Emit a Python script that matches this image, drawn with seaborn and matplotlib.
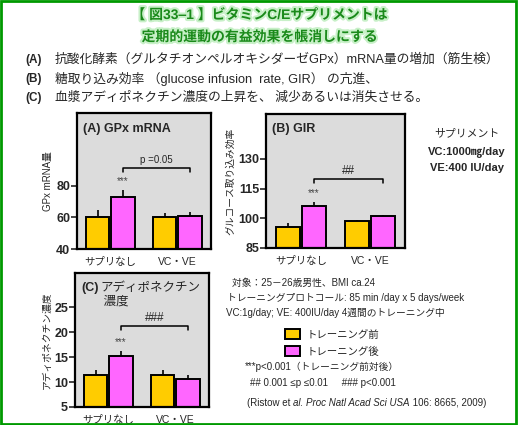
import matplotlib
matplotlib.use("Agg")
import matplotlib.pyplot as plt
import matplotlib.patheffects as pe
import seaborn as sns
import pandas as pd

sns.set_theme(style="white")
plt.rcParams['font.family'] = ['Liberation Sans', 'Noto Sans CJK JP', 'DejaVu Sans']

# data
groups = ["サプリなし", "VC・VE"]
phases = ["トレーニング前", "トレーニング後"]
gpx_mean = [60, 73, 60, 61]
gpx_err = [4.5, 4.5, 3, 2.5]
gir_mean = [95.8, 106.4, 98.8, 101.3]
gir_err = [2.0, 2.0, 0.3, 0.3]
adipo_mean = [11.5, 15.2, 11.5, 10.6]
adipo_err = [0.9, 1.0, 0.9, 0.8]

colors = ["#FFCC00", "#FF66FF"]


def make_df(mean, err):
    rows = []
    k = 0
    for g in groups:
        for p in phases:
            rows.append({"group": g, "phase": p, "value": mean[k], "err": err[k]})
            k += 1
    return pd.DataFrame(rows)


fig = plt.figure(figsize=(5.19, 4.25), dpi=100)
fig.patch.set_facecolor("white")

# green frame
fig.add_artist(plt.Rectangle((0.002, 0.003), 0.993, 0.994, transform=fig.transFigure,
                             fill=False, edgecolor="#009900", linewidth=2))


def panel(rect, mean, err, ylim, yticks, ylabel, title, sig, sig_y, legend=False, sub=None):
    ax = fig.add_axes(rect)
    df = make_df(mean, err)
    sns.barplot(data=df, x="group", y="value", hue="phase", hue_order=phases,
                palette=colors, saturation=1, width=0.75, gap=0.08, errorbar=None,
                edgecolor="black", linewidth=1.4, ax=ax, legend=legend)
    # upward error bars at the centre of each bar
    bars = [p for p in ax.patches if p.get_height() > 0][:4]
    bars = sorted(bars, key=lambda b: b.get_x())
    for b, e in zip(bars, err):
        xc = b.get_x() + b.get_width() / 2
        ax.errorbar(xc, b.get_height(), yerr=[[0], [e]], fmt="none",
                    ecolor="black", elinewidth=1.2, capsize=0)
    ax.set_ylim(*ylim)
    ax.set_yticks(yticks)
    ax.set_xlim(-0.5, 1.5)
    ax.set_facecolor("#DCDCDC")
    for s in ax.spines.values():
        s.set_color("black")
        s.set_linewidth(1.6)
    ax.tick_params(axis="y", left=True, length=4, width=1.2, pad=1, labelsize=9)
    ax.tick_params(axis="x", bottom=False, labelsize=7.5, pad=0)
    ax.set_xlabel("")
    ax.set_ylabel(ylabel, fontsize=7, labelpad=2)
    ax.text(0.045, 0.93, title, transform=ax.transAxes, fontsize=9,
            fontweight="bold", va="top", ha="left")
    if sub:
        ax.text(0.19, 0.935, sub, transform=ax.transAxes, fontsize=9,
                va="top", ha="left", linespacing=1.25)
    # stars above the trained bar without supplement
    b = bars[1]
    ax.text(b.get_x() + b.get_width() / 2, b.get_height() + err[1] + (ylim[1] - ylim[0]) * 0.03,
            "***", ha="center", va="bottom", fontsize=7, color="#444444")
    # bracket between trained bars
    x1 = bars[1].get_x() + bars[1].get_width() / 2
    x2 = bars[3].get_x() + bars[3].get_width() / 2
    tick = (ylim[1] - ylim[0]) * 0.03
    ax.plot([x1, x1, x2, x2], [sig_y - tick, sig_y, sig_y, sig_y - tick],
            color="black", linewidth=1.1)
    ax.text((x1 + x2) / 2, sig_y + tick * 0.6, sig, ha="center", va="bottom",
            fontsize=7 if sig.startswith("p") else 8.5)
    return ax


axA = panel([0.1484, 0.414, 0.258, 0.320], gpx_mean, gpx_err, (40, 126), [40, 60, 80],
            "GPx mRNA量", "(A) GPx mRNA", "p =0.05", 91.5)
axB = panel([0.5125, 0.4165, 0.268, 0.315], gir_mean, gir_err, (85, 152.6), [85, 100, 115, 130],
            "グルコース取り込み効率", "(B) GIR", "##", 119.6)
axC = panel([0.1445, 0.0424, 0.258, 0.315], adipo_mean, adipo_err, (5, 31.8), [5, 10, 15, 20, 25],
            "アディポネクチン濃度", "(C)", "###", 21.2, legend=True,
            sub="アディポネクチン\n 濃度")
for t in axA.get_yticklabels() + axB.get_yticklabels() + axC.get_yticklabels():
    t.set_fontweight("bold")

sns.move_legend(axC, "upper left", bbox_to_anchor=(276 / 519, 1 - 320 / 425),
                bbox_transform=fig.transFigure, frameon=False, title=None,
                fontsize=7.5, handlelength=1.4, handleheight=1.1, handletextpad=0.6,
                labelspacing=0.6)

# title
glow = [pe.withStroke(linewidth=3, foreground="#C8F0C8")]
fig.text(0.5, 1 - 15 / 425, "【 図33‒1 】ビタミンC/Eサプリメントは", ha="center", va="center",
         fontsize=10, fontweight="bold", color="#1A8A1A", path_effects=glow)
fig.text(0.5, 1 - 37 / 425, "定期的運動の有益効果を帳消しにする", ha="center", va="center",
         fontsize=10, fontweight="bold", color="#1A8A1A", path_effects=glow)

lines = [("(A)", "抗酸化酵素（グルタチオンペルオキシダーゼGPx）mRNA量の増加（筋生検）"),
         ("(B)", "糖取り込み効率 （glucose infusion  rate, GIR） の亢進、"),
         ("(C)", "血漿アディポネクチン濃度の上昇を、 減少あるいは消失させる。")]
for i, (lab, txt) in enumerate(lines):
    y = 1 - (60 + i * 19) / 425
    fig.text(25 / 519, y, lab, fontsize=8.5, va="center", fontweight="bold")
    fig.text(55 / 519, y, txt, fontsize=9.2, va="center")

fig.text(467 / 519, 1 - 133 / 425, "サプリメント", ha="center", va="center", fontsize=7.8)
fig.text(467 / 519, 1 - 152 / 425, "VC:1000㎎/day", ha="center", va="center", fontsize=8,
         fontweight="bold")
fig.text(467 / 519, 1 - 168 / 425, "VE:400 IU/day", ha="center", va="center", fontsize=8,
         fontweight="bold")

fig.text(232 / 519, 1 - 283 / 425, "対象：25－26歳男性、BMI ca.24", va="center", fontsize=7)
fig.text(227 / 519, 1 - 298 / 425, "トレーニングプロトコール: 85 min /day x 5 days/week",
         va="center", fontsize=7)
fig.text(226 / 519, 1 - 313 / 425, "VC:1g/day; VE: 400IU/day 4週間のトレーニング中",
         va="center", fontsize=7)
fig.text(245 / 519, 1 - 367 / 425, "***p<0.001（トレーニング前対後）", va="center", fontsize=7)
fig.text(250 / 519, 1 - 383 / 425, "## 0.001 ≤p ≤0.01     ### p<0.001", va="center", fontsize=7)

# citation with italic parts
fig.canvas.draw()
renderer = fig.canvas.get_renderer()
pieces = [("(Ristow et ", "normal"), ("al. Proc Natl Acad Sci USA", "italic"),
          (" 106: 8665, 2009)", "normal")]
x = 247 / 519
for txt, style in pieces:
    t = fig.text(x, 1 - 403 / 425, txt, va="center", fontsize=7, style=style)
    bb = t.get_window_extent(renderer)
    x += bb.width / fig.bbox.width

fig.savefig("out.png", dpi=100)
